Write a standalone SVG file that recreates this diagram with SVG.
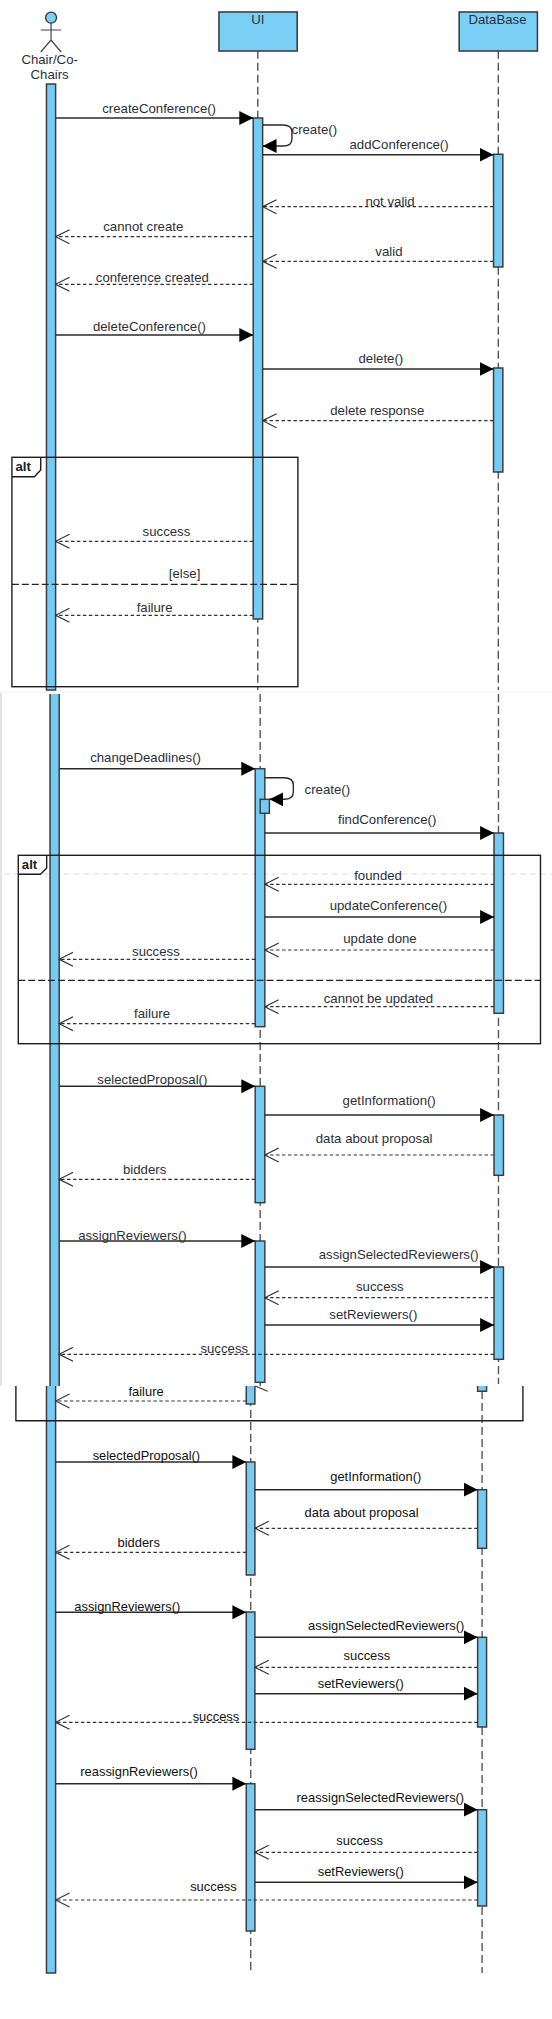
<svg xmlns="http://www.w3.org/2000/svg" width="552" height="2019" viewBox="0 0 552 2019">
<style>
text{font-family:"Liberation Sans",Arial,sans-serif;font-size:13.3px;fill:#2b2f3a}
.low text{font-size:13px;fill:#111}
.box{fill:#7bcff7;stroke:#3f3f3f;stroke-width:1.6}
.act{fill:#74ccf6;stroke:#3d3d3d;stroke-width:1.5}
.fill{fill:#74ccf6}
.edge{fill:none;stroke:#3d3d3d;stroke-width:1.5}
.life{fill:none;stroke:#555;stroke-width:1.4;stroke-dasharray:8 4}
.call{fill:none;stroke:#2a2a2a;stroke-width:1.4;marker-end:url(#solid)}
.ret{fill:none;stroke:#333;stroke-width:1.2;stroke-dasharray:3.5 2.5;marker-end:url(#open)}
.frame{fill:none;stroke:#1d1d1d;stroke-width:1.4}
.sep{fill:none;stroke:#222;stroke-width:1.2;stroke-dasharray:7 3}
.alt{font-weight:bold;fill:#222}
</style>
<defs>
<marker id="solid" markerUnits="userSpaceOnUse" markerWidth="15" markerHeight="16" refX="14" refY="7.5" orient="auto"><path d="M0,0.5 L14,7.5 L0,14.5 z" fill="#000"/></marker>
<marker id="open" markerUnits="userSpaceOnUse" markerWidth="15" markerHeight="16" refX="14" refY="7.5" orient="auto"><path d="M0,0.5 L14,7.5 L0,14.5" fill="none" stroke="#333" stroke-width="1.2"/></marker>
</defs>
<rect width="552" height="2019" fill="#fff"/>
<g transform="scale(0.993 1)">
<g id="seams" fill="none" stroke="#e4e4e4">
<path d="M1,692 V1386" stroke-width="2"/>
<path d="M0,692 H556" stroke="#f0f0f0"/>
<path d="M4,874 H556" stroke="#dcdcdc" stroke-dasharray="6 4"/>
</g>
<g id="actor-chair">
<circle cx="51.4" cy="17.7" r="5.5" fill="#7bcff7" stroke="#333" stroke-width="1.3"/>
<path d="M51.4,23.2 V40 M41,30 H61.5 M41,52 L51.4,40 L61.5,52" fill="none" stroke="#444" stroke-width="1.2"/>
<text x="50" y="64" text-anchor="middle">Chair/Co-</text>
<text x="50" y="79" text-anchor="middle">Chairs</text>
<rect class="act" x="46.8" y="84" width="9.2" height="606"/>
<rect class="fill" x="50.4" y="694" width="9.2" height="692"/>
<path class="edge" d="M50.4,694 V1386 M59.6,694 V1386"/>
<path class="act" d="M46.8,1386 V1973 H56 V1386"/>
</g>
<g id="node-ui">
<path class="life" d="M259.6,50.7 V690"/>
<path class="life" d="M262,694 V1386"/>
<path class="life" d="M252.5,1386 V1973"/>
<rect class="box" x="220.5" y="12" width="78.8" height="39"/>
<text x="259.6" y="24" text-anchor="middle">UI</text>
<rect class="act" x="255" y="118" width="9.5" height="501"/>
<rect class="act" x="257" y="768.7" width="9.7" height="258"/>
<rect class="act" x="262" y="799.3" width="9.3" height="14"/>
<rect class="act" x="257" y="1086.3" width="9.7" height="116.4"/>
<rect class="act" x="257" y="1241" width="9.7" height="141.3"/>
<path class="act" d="M248,1386 V1404 H256.7 V1386"/>
<rect class="act" x="248" y="1462" width="8.7" height="113"/>
<rect class="act" x="248" y="1612" width="8.7" height="137.3"/>
<rect class="act" x="248" y="1783.7" width="8.7" height="147.3"/>
</g>
<g id="node-database">
<path class="life" d="M501.8,50.7 V690"/>
<path class="life" d="M502,694 V1384"/>
<path class="life" d="M485.5,1391 V1973"/>
<rect class="box" x="462.4" y="12" width="78.8" height="39"/>
<text x="501" y="24" text-anchor="middle">DataBase</text>
<rect class="act" x="497" y="154.3" width="9.4" height="112.7"/>
<rect class="act" x="497" y="368" width="9.4" height="104"/>
<rect class="act" x="497.5" y="833" width="9.5" height="180.3"/>
<rect class="act" x="497.5" y="1115" width="9.5" height="60.3"/>
<rect class="act" x="497.5" y="1267" width="9.5" height="92.3"/>
<path class="act" d="M481,1386 V1391.3 H490 V1386"/>
<rect class="act" x="481" y="1489.7" width="9" height="58.6"/>
<rect class="act" x="481" y="1637.3" width="9" height="89.7"/>
<rect class="act" x="481" y="1809.7" width="9" height="96.3"/>
</g>
<g id="connectors">
<path class="call" d="M56,118 H255"/>
<path class="call" d="M264.5,125 H285 Q294,125 294,132 V139 Q294,146 285,146 H264.5"/>
<path class="call" d="M264.5,154.7 H497"/>
<path class="ret" d="M497,206.7 H264.5"/>
<path class="ret" d="M255,236.7 H56"/>
<path class="ret" d="M497,261.3 H264.5"/>
<path class="ret" d="M255,284.3 H56"/>
<path class="call" d="M56,335 H255"/>
<path class="call" d="M264.5,369 H497"/>
<path class="ret" d="M497,420.7 H264.5"/>
<path class="ret" d="M255,541.3 H56"/>
<path class="ret" d="M255,615.3 H56"/>
<path class="call" d="M59.6,768.7 H257"/>
<path class="call" d="M266.7,777.7 H286 Q295.4,777.7 295.4,785 V792 Q295.4,799.3 286,799.3 H271.3"/>
<path class="call" d="M266.7,833 H497.5"/>
<path class="ret" d="M497.5,884.3 H266.7"/>
<path class="call" d="M266.7,917 H497.5"/>
<path class="ret" d="M497.5,950 H266.7"/>
<path class="ret" d="M257,959.3 H59.6"/>
<path class="ret" d="M497.5,1006.7 H266.7"/>
<path class="ret" d="M257,1023.7 H59.6"/>
<path class="call" d="M59.6,1086.3 H257"/>
<path class="call" d="M266.7,1115 H497.5"/>
<path class="ret" d="M497.5,1155 H266.7"/>
<path class="ret" d="M257,1179.3 H59.6"/>
<path class="call" d="M59.6,1241 H257"/>
<path class="call" d="M266.7,1267 H497.5"/>
<path class="ret" d="M497.5,1297.7 H266.7"/>
<path class="call" d="M266.7,1325 H497.5"/>
<path class="ret" d="M497.5,1354.3 H59.6"/>
<path d="M257,1386 L269.5,1391.3" fill="none" stroke="#333" stroke-width="1.2"/>
<path class="ret" d="M248,1401 H56"/>
<path class="call" d="M56,1462 H248"/>
<path class="call" d="M256.7,1489.7 H481"/>
<path class="ret" d="M481,1528.3 H256.7"/>
<path class="ret" d="M248,1552.3 H56"/>
<path class="call" d="M56,1612.3 H248"/>
<path class="call" d="M256.7,1637.3 H481"/>
<path class="ret" d="M481,1667.3 H256.7"/>
<path class="call" d="M256.7,1693.7 H481"/>
<path class="ret" d="M481,1722.3 H56"/>
<path class="call" d="M56,1783.7 H248"/>
<path class="call" d="M256.7,1809.7 H481"/>
<path class="ret" d="M481,1852.3 H256.7"/>
<path class="call" d="M256.7,1882.3 H481"/>
<path class="ret" d="M481,1900 H56"/>
</g>
<g id="frame-alt-1">
<rect class="frame" x="12" y="457.3" width="288" height="229.4"/>
<path class="frame" d="M12,476.7 H34.7 L41,470 V457.3"/>
<text class="alt" x="15.6" y="470.7">alt</text>
<path class="sep" d="M12,584.3 H300"/>
<text x="170" y="578">[else]</text>
</g>
<g id="frame-alt-2">
<rect class="frame" x="18.4" y="855.3" width="525.9" height="188.4"/>
<path class="frame" d="M18.4,874.3 H40.8 L47,868 V855.3"/>
<text class="alt" x="22" y="869">alt</text>
<path class="sep" d="M18.4,980.3 H544.3"/>
</g>
<g id="frame-alt-2-tail">
<path class="frame" d="M16,1386 V1420.7 H526.6 V1386"/>
</g>
<g id="labels">
<text x="103" y="113">createConference()</text>
<text x="293.6" y="134">create()</text>
<text x="352" y="149">addConference()</text>
<text x="368" y="206.5">not valid</text>
<text x="104" y="231">cannot create</text>
<text x="378" y="256">valid</text>
<text x="96.5" y="282">conference created</text>
<text x="93.6" y="330.7">deleteConference()</text>
<text x="361" y="362.7">delete()</text>
<text x="332.6" y="415">delete response</text>
<text x="143.6" y="536">success</text>
<text x="137.6" y="611.7">failure</text>
<text x="90.8" y="762">changeDeadlines()</text>
<text x="306.7" y="794.3">create()</text>
<text x="340.4" y="824">findConference()</text>
<text x="356.7" y="880.3">founded</text>
<text x="332" y="910.3">updateConference()</text>
<text x="345.7" y="943">update done</text>
<text x="133" y="956">success</text>
<text x="326" y="1003">cannot be updated</text>
<text x="135" y="1018.3">failure</text>
<text x="98" y="1084.3">selectedProposal()</text>
<text x="345" y="1105">getInformation()</text>
<text x="318" y="1143.3">data about proposal</text>
<text x="123.8" y="1174">bidders</text>
<text x="78.7" y="1240">assignReviewers()</text>
<text x="321" y="1259.3">assignSelectedReviewers()</text>
<text x="358.5" y="1290.7">success</text>
<text x="331.6" y="1319.3">setReviewers()</text>
<text x="201.8" y="1353.3">success</text>
</g>
<g id="labels-lower" class="low">
<text x="129.4" y="1395.7">failure</text>
<text x="93.3" y="1460">selectedProposal()</text>
<text x="332.6" y="1480.7">getInformation()</text>
<text x="306.7" y="1517.3">data about proposal</text>
<text x="118.4" y="1547.3">bidders</text>
<text x="74.8" y="1611.3">assignReviewers()</text>
<text x="310.3" y="1630.3">assignSelectedReviewers()</text>
<text x="346" y="1660.3">success</text>
<text x="320" y="1688.3">setReviewers()</text>
<text x="194" y="1721.3">success</text>
<text x="80.9" y="1776.3">reassignReviewers()</text>
<text x="298.6" y="1802.3">reassignSelectedReviewers()</text>
<text x="338.7" y="1845.3">success</text>
<text x="320" y="1876.3">setReviewers()</text>
<text x="191.5" y="1891.3">success</text>
</g>
</g>
</svg>
